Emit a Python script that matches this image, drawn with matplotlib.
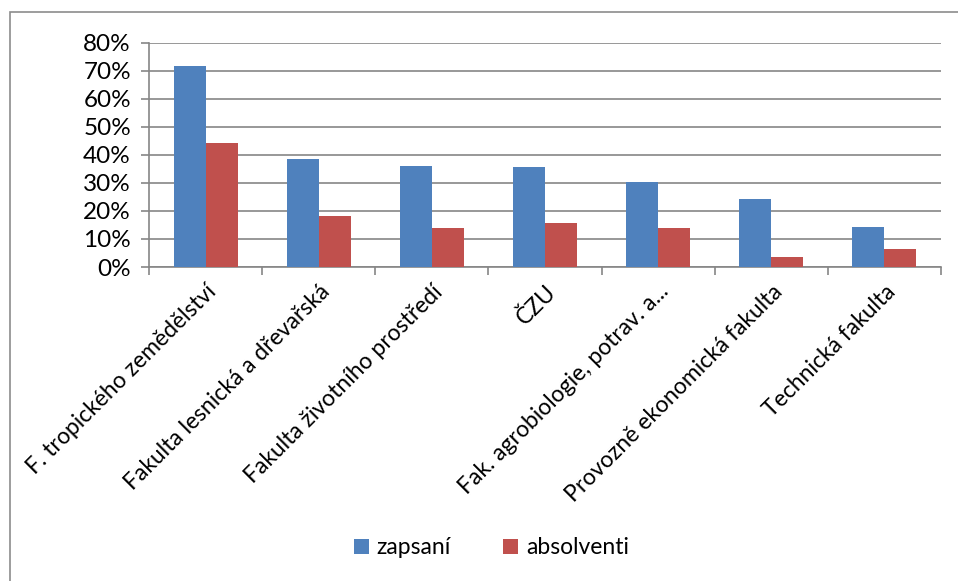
import numpy as np
import matplotlib
matplotlib.use('Agg')
from matplotlib import pyplot as plt
from matplotlib import ticker
from matplotlib.patches import Rectangle

plt.rcParams['font.family'] = ['Lato', 'DejaVu Sans']

#%% data
fakulty = ['F. tropického zemědělství', 'Fakulta lesnická a dřevařská',
           'Fakulta životního prostředí', 'ČZU', 'Fak. agrobiologie, potrav. a...',
           'Provozně ekonomická fakulta', 'Technická fakulta']
zapsani = [0.717, 0.384, 0.362, 0.356, 0.304, 0.242, 0.141]
absolventi = [0.441, 0.182, 0.140, 0.156, 0.140, 0.037, 0.064]

blue = '#4F81BD'
red = '#C0504D'
grid_c = '#868686'

#%% figure
fig = plt.figure(figsize=(9.58, 5.81), dpi=100)
ax = fig.add_axes([0.1555, 0.5404, 0.8268, 0.3861])

# chart border like the spreadsheet frame
fig.patches.append(Rectangle((10/958, -0.1), 1.2, 1 - 12/581 + 0.1, transform=fig.transFigure,
                             fill=False, edgecolor='#8c8c8c', linewidth=1.2))

x = np.arange(len(fakulty))
w = 0.283
ax.bar(x - w/2, zapsani, width=w, color=blue, label='zapsaní', zorder=3)
ax.bar(x + w/2, absolventi, width=w, color=red, label='absolventi', zorder=3)

ax.set_xlim(-0.5, len(fakulty) - 0.5)
ax.set_ylim(0, 0.8)
ax.yaxis.set_major_locator(ticker.MultipleLocator(0.1))
ax.yaxis.set_major_formatter(ticker.PercentFormatter(1.0, decimals=0))
ax.yaxis.grid(True, color=grid_c, linewidth=1.2, zorder=0)

for s in ['top', 'right']:
    ax.spines[s].set_visible(False)
for s in ['left', 'bottom']:
    ax.spines[s].set_color(grid_c)
    ax.spines[s].set_linewidth(1.2)

ax.set_xticks(np.arange(-0.5, len(fakulty)), minor=False)
ax.set_xticklabels([])
ax.set_xticks(x, minor=True)
ax.set_xticklabels(fakulty, minor=True, rotation=45, ha='right', va='top',
                   rotation_mode='anchor', fontsize=16.5)
ax.tick_params(axis='x', which='minor', length=0, pad=10)
ax.tick_params(axis='x', which='major', length=6, color=grid_c, width=1.2)
ax.tick_params(axis='y', length=6, color=grid_c, width=1.2, labelsize=17.5, pad=7)

fig.legend(loc='center', bbox_to_anchor=(0.513, 0.057), ncol=2, frameon=False,
           fontsize=16.5, handlelength=0.65, handleheight=0.65, handletextpad=0.35,
           columnspacing=2.3)

fig.savefig('out.png', dpi=100)
